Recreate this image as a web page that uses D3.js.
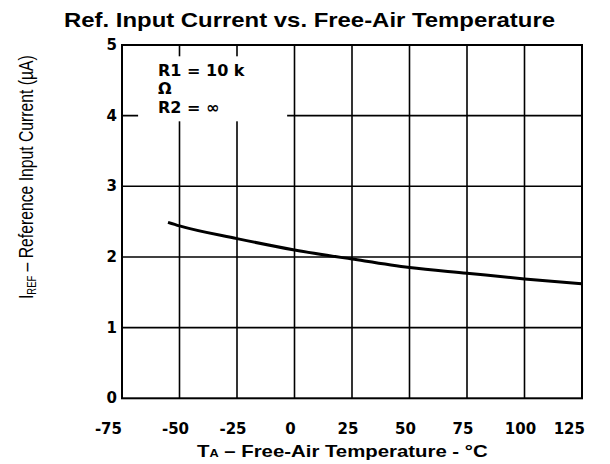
<!DOCTYPE html>
<html>
<head>
<meta charset="utf-8">
<script src="https://cdn.jsdelivr.net/npm/d3@7"></script>
<style>
  body { margin: 0; background: #fff; }
  svg { display: block; }
  .tick-label { font-family: "DejaVu Sans", sans-serif; font-weight: bold; font-size: 15px; fill: #000; }
  .legend { font-family: "DejaVu Sans", sans-serif; font-weight: bold; font-size: 16px; fill: #000; }
</style>
</head>
<body>
<div id="chart"></div>
<script>
// Data
var temps = [-55, -50, -25, 0, 25, 50, 75, 100, 125];
var iref = [2.49, 2.44, 2.26, 2.10, 1.97, 1.85, 1.77, 1.69, 1.62];
var xTicks = [-75, -50, -25, 0, 25, 50, 75, 100, 125];
var yTicks = [0, 1, 2, 3, 4, 5];
var legendLines = ["R1 = 10 k", "\u03A9", "R2 = \u221E"];

var width = 610, height = 464;
var margin = {top: 45, right: 28, bottom: 66, left: 122};

var svg = d3.select("#chart")
  .append("svg")
  .attr("width", width)
  .attr("height", height);

// Scales
var x = d3.scaleLinear()
  .domain([-75, 125])
  .range([margin.left, width - margin.right]);

var y = d3.scaleLinear()
  .domain([0, 5])
  .range([height - margin.bottom + 0.3, margin.top]);

// Grid
svg.append("g")
  .selectAll("line.vgrid")
  .data(xTicks.slice(1, -1))
  .enter().append("line")
  .attr("x1", d => x(d)).attr("x2", d => x(d))
  .attr("y1", y(0)).attr("y2", y(5))
  .attr("stroke", "#000").attr("stroke-width", 1.6);

svg.append("g")
  .selectAll("line.hgrid")
  .data(yTicks.slice(1, -1))
  .enter().append("line")
  .attr("x1", x(-75)).attr("x2", x(125))
  .attr("y1", d => y(d)).attr("y2", d => y(d))
  .attr("stroke", "#000").attr("stroke-width", 1.6);

// Frame
svg.append("rect")
  .attr("x", x(-75)).attr("y", y(5))
  .attr("width", x(125) - x(-75))
  .attr("height", y(0) - y(5))
  .attr("fill", "none")
  .attr("stroke", "#000")
  .attr("stroke-width", 2);

// Y tick labels
svg.append("g")
  .selectAll("text")
  .data(yTicks)
  .enter().append("text")
  .attr("class", "tick-label")
  .attr("x", x(-75) - 5)
  .attr("y", d => y(d))
  .attr("dy", "0.33em")
  .attr("text-anchor", "end")
  .text(d => d);

// X tick labels (slightly left of the grid lines, like the original)
svg.append("g")
  .selectAll("text")
  .data(xTicks)
  .enter().append("text")
  .attr("class", "tick-label")
  .attr("x", d => x(d))
  .attr("y", 434)
  .attr("dx", d => d === -75 ? 0 : (d === 125 ? 3 : -4))
  .attr("text-anchor", d => (d === -75 || d === 125) ? "end" : "middle")
  .text(d => d);

// Curve
var line = d3.line()
  .x((d, i) => x(temps[i]))
  .y(d => y(d))
  .curve(d3.curveMonotoneX);

svg.append("path")
  .datum(iref)
  .attr("d", line)
  .attr("fill", "none")
  .attr("stroke", "#000")
  .attr("stroke-width", 3);

// Legend box (white patch over the grid)
svg.append("rect")
  .attr("x", x(-68))
  .attr("y", y(4.84))
  .attr("width", x(-3.2) - x(-68))
  .attr("height", y(3.92) - y(4.84))
  .attr("fill", "#fff");

svg.append("g")
  .selectAll("text")
  .data(legendLines)
  .enter().append("text")
  .attr("class", "legend")
  .attr("x", 158)
  .attr("y", (d, i) => 76 + i * 18.3)
  .text(d => d);

// Title
var title = svg.append("text")
  .attr("x", 64)
  .attr("y", 27)
  .attr("font-family", "Liberation Sans, Arial, sans-serif")
  .attr("font-weight", "bold")
  .attr("font-size", 21)
  .attr("textLength", 491)
  .attr("lengthAdjust", "spacingAndGlyphs")
  .text("Ref. Input Current vs. Free-Air Temperature");

// X axis title
var xTitle = svg.append("text")
  .attr("font-family", "Liberation Sans, Arial, sans-serif")
  .attr("font-weight", "bold")
  .attr("font-size", 16);
xTitle.append("tspan").text("T");
xTitle.append("tspan").attr("font-size", 10).text("A");
xTitle.append("tspan").text(" \u2013 Free-Air Temperature - \u00B0C");
var xLen = xTitle.node().getComputedTextLength();
xTitle.attr("transform", `translate(197, 456.5) scale(${291 / xLen}, 1)`);

// Y axis title
var yTitle = svg.append("text")
  .attr("font-family", "Liberation Sans, Arial, sans-serif")
  .attr("font-size", 20);
yTitle.append("tspan").text("I");
yTitle.append("tspan").attr("font-size", 12).attr("dy", 3).text("REF");
yTitle.append("tspan").attr("dy", -3).text(" \u2013 Reference Input Current (\u00B5A)");
var yLen = yTitle.node().getComputedTextLength();
yTitle.attr("transform", `translate(33, 299) rotate(-90) scale(${244 / yLen}, 1)`);
</script>
</body>
</html>
